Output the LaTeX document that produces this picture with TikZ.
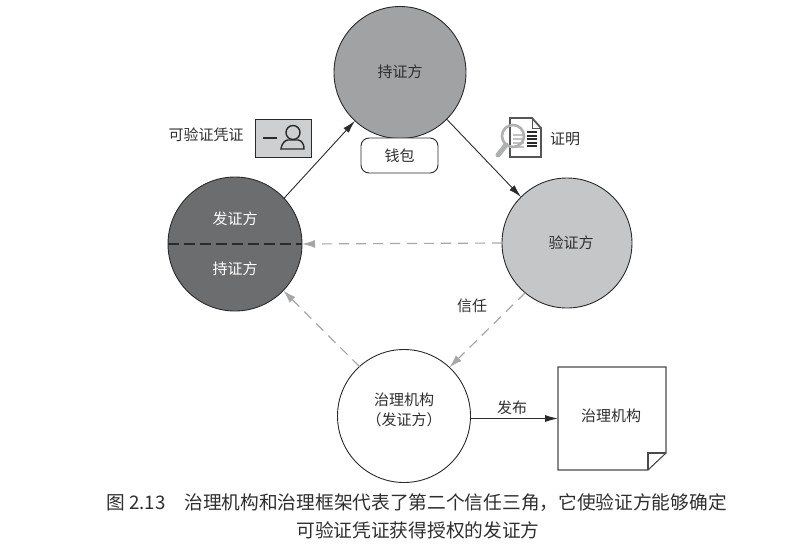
\documentclass[tikz,border=0pt]{standalone}
\usepackage{fontspec}
\setmainfont{Noto Sans CJK SC}
\usetikzlibrary{arrows.meta,calc}
\definecolor{txt}{HTML}{2E2E2E}
\definecolor{holderc}{HTML}{A1A2A4}
\definecolor{issuerc}{HTML}{6C6D6F}
\definecolor{verifc}{HTML}{C5C6C8}
\definecolor{dashg}{HTML}{A6A7A9}
\definecolor{linec}{HTML}{2A2A2A}
\tikzset{
  party/.style={circle,draw=linec,line width=0.9pt,inner sep=0pt,outer sep=0pt,text=txt,font=\fontsize{15}{20}\selectfont,align=center},
  lbl/.style={text=txt,font=\fontsize{15}{20}\selectfont,inner sep=0pt,align=center},
  captext/.style={text=txt,font=\fontsize{18.7}{24}\selectfont,inner sep=0pt},
  solidarrow/.style={draw=linec,line width=0.9pt,-{Latex[length=13pt,width=7pt]}},
  trustarrow/.style={draw=dashg,line width=1.2pt,dash pattern=on 10pt off 7pt,-{Latex[length=13pt,width=8pt]}},
}
\begin{document}
\begin{tikzpicture}[x=1pt,y=-1pt]
\useasboundingbox (0,0) rectangle (788,558);
\node[party,fill=holderc,minimum size=132pt] (holder) at (400,72.5) {};
\node[lbl] (holdertext) at (400,72) {持证方};
\node[party,fill=issuerc,minimum size=134pt] (issuer) at (235,244) {};
\node[party,fill=verifc,minimum size=130pt] (verifier) at (567,243) {};
\node[lbl] (verifiertext) at (571,243) {验证方};
\node[party,fill=white,minimum size=133pt] (gov) at (404,416) {};
\node[lbl] (govtext) at (404,410) {治理机构\\（发证方）};
\node[lbl,text=white] (issuertext) at (235,219) {发证方};
\node[lbl,text=white] (issuertextb) at (235,269) {持证方};
\draw[linec,line width=1.1pt,dash pattern=on 11pt off 5pt] (issuer.west) -- (issuer.east);
\node[draw=linec,fill=white,rounded corners=8pt,line width=0.9pt,minimum width=77pt,minimum height=35pt,inner sep=0pt,lbl] (wallet) at (399.5,155.5) {钱包};
% arrows
\draw[solidarrow] (issuer.43) -- (holder.227);
\draw[solidarrow] (holder.-45.5) -- (verifier.135);
\draw[trustarrow] (verifier.west) -- (issuer.east);
\draw[trustarrow] (verifier.230) -- (gov.47);
\draw[trustarrow] (gov.132) -- (issuer.-44);
% document
\node[minimum width=108pt,minimum height=103pt,inner sep=0pt,outer sep=0pt] (doc) at (612,418.5) {};
\draw[draw=linec!85!white,line width=1.1pt,fill=white] (doc.north west) -- (doc.north east) -- ($(doc.south east)+(0,-17)$) -- ($(doc.south east)+(-18,0)$) -- (doc.south west) -- cycle;
\node[lbl] (doctext) at (611,416) {治理机构};
\draw[draw=linec!85!white,line width=1.1pt] ($(doc.south east)+(0,-17)$) -- ($(doc.south east)+(-18,-17)$) -- ($(doc.south east)+(-18,0)$);
\draw[solidarrow] (gov.east |- doc.west) -- (doc.west);
\node[lbl] (publish) at (512,408) {发布};
\node[lbl] (trust) at (472,306) {信任};
\node[lbl] (vc) at (206,135) {可验证凭证};
\node[lbl] (proof) at (565,139) {证明};
% credential icon
\draw[draw=linec,line width=0.9pt,fill=verifc!85!white] (255,119) rectangle (311,157);
\draw[linec,line width=2.4pt] (263,138) -- (277,138);
\draw[linec,line width=1.4pt] (293,132.5) circle (7);
\draw[linec,line width=1.4pt] (281,149) .. controls (282,142) and (286,140) .. (288,140) -- (298,140) .. controls (300,140) and (304,142) .. (304,149) -- cycle;
% proof icon
\draw[draw=linec!80!white,line width=1.8pt,fill=white] (510,118) -- (532,118) -- (541,128) -- (541,157) -- (510,157) -- cycle;
\draw[draw=linec!80!white,line width=1pt] (532,118) -- (532,128) -- (541,128);
\foreach \yy in {132,135.5,139,142.5,146}{\draw[linec,line width=2pt] (527,\yy) -- (537,\yy);}
\foreach \yy in {135,139,143,147}{\draw[dashg!70!white,line width=2pt] (513,\yy) -- (524,\yy);}
\draw[dashg!90!white,line width=5pt,line cap=round] (506,145) -- (498,155);
\draw[dashg!90!white,line width=2.6pt] (513,136) circle (11);
% caption
\node[captext,anchor=west] (capa) at (106,503) {图 2.13\hspace{19pt}治理机构和治理框架代表了第二个信任三角，它使验证方能够确定};
\node[captext] (capb) at (418,530) {可验证凭证获得授权的发证方};
\end{tikzpicture}
\end{document}
